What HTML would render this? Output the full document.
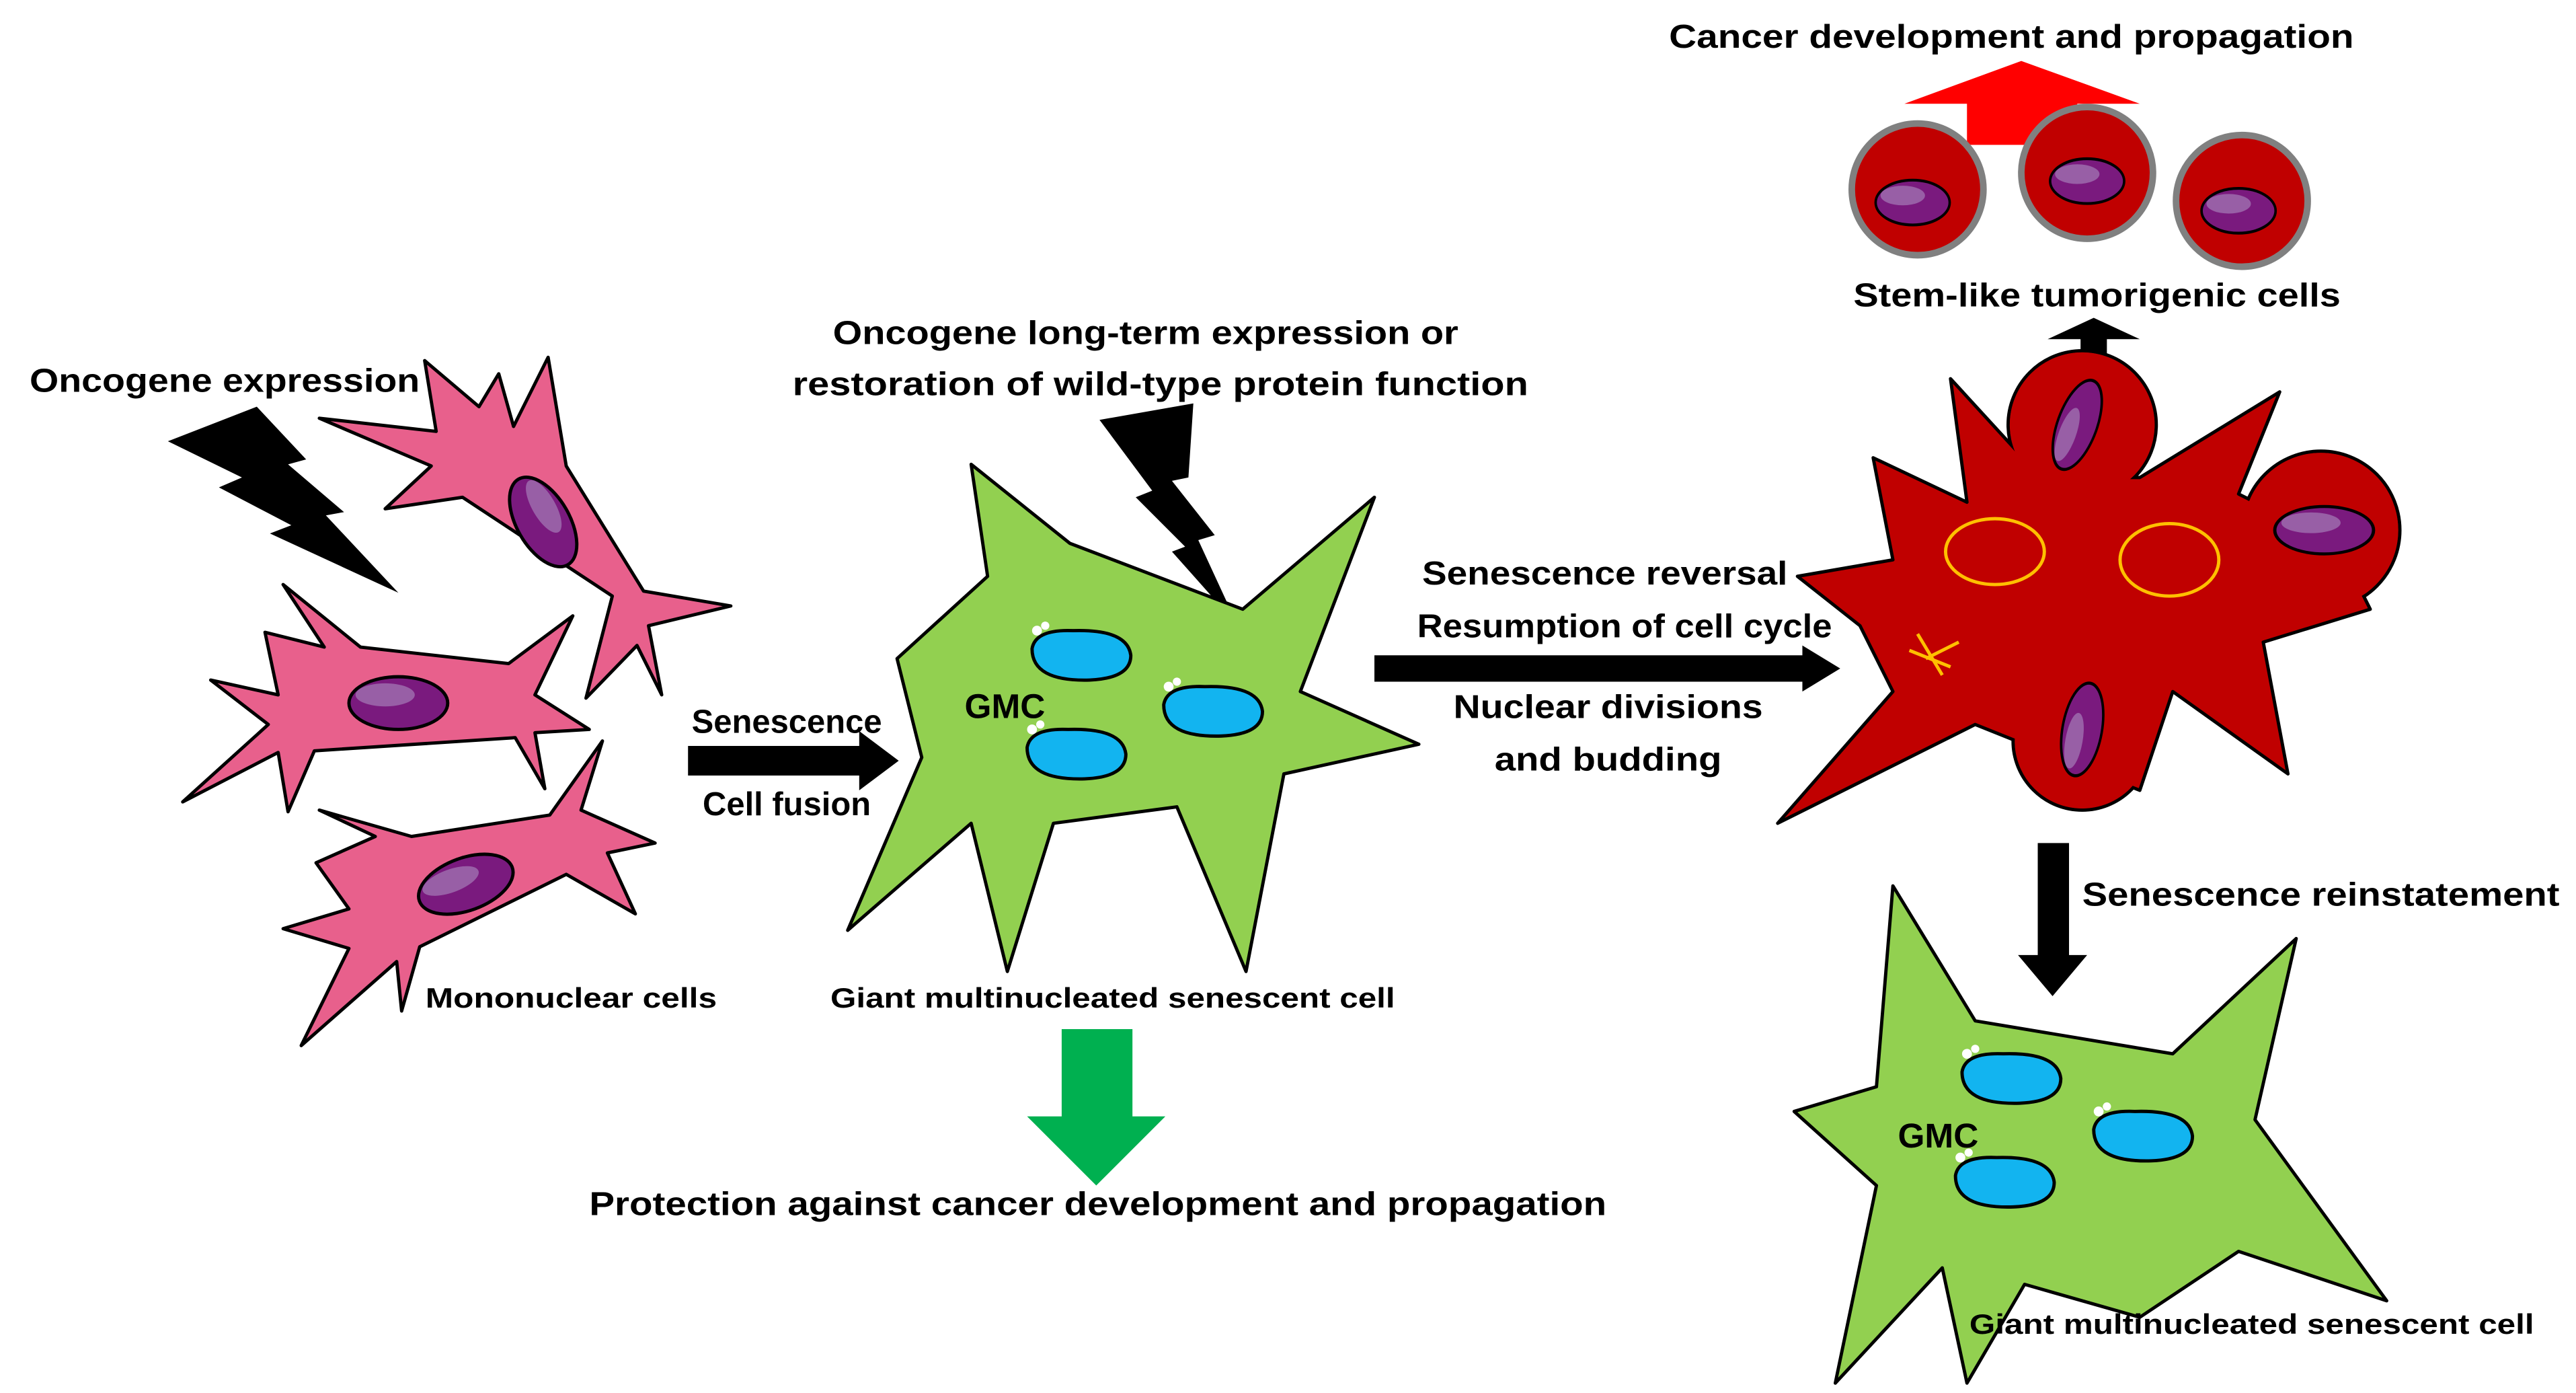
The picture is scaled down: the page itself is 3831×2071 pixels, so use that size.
<!DOCTYPE html>
<html><head><meta charset="utf-8"><style>
html,body{margin:0;padding:0;background:#fff;}
svg{display:block;}
text{font-family:"Liberation Sans",sans-serif;font-weight:bold;fill:#000;}
</style></head><body>
<svg width="3831" height="2071" viewBox="0 0 1565 846" preserveAspectRatio="none" xmlns="http://www.w3.org/2000/svg">
<defs>
<g id="nuc"><ellipse rx="30" ry="16" fill="#7a1a7e" stroke="#000" stroke-width="2"/><ellipse cx="-8" cy="-5" rx="18" ry="7" fill="#a070b0" opacity="0.8"/></g>
<g id="bnuc"><path d="M-30,-4 Q-28,-16 -5,-15 Q28,-16 30,0 Q30,14 5,15 Q-30,16 -30,-4Z" fill="#12b4f0" stroke="#000" stroke-width="2"/><circle cx="-27" cy="-15" r="3" fill="#fff"/><circle cx="-22" cy="-18" r="2.5" fill="#fff"/></g>
</defs>
<g fill="#e8608c" stroke="#000" stroke-width="2" stroke-linejoin="round">
<path d="M194,254 L265,262 L258,219 L291,247 L303,227 L312,259 L333,217 L344,283 L391,359 L444,368 L394,380 L402,422 L387,392 L356,424 L372,362 L281,302 L234,309 L262,283 Z"/>
<path d="M172,355 L197,393 L161,384 L169,422 L128,413 L163,440 L111,487 L169,457 L175,493 L191,456 L313,448 L331,479 L325,445 L358,443 L325,422 L348,374 L309,403 L219,393 Z"/>
<path d="M194,492 L228,508 L192,524 L212,552 L172,564 L212,576 L183,635 L241,584 L244,614 L255,575 L344,531 L386,555 L369,518 L398,512 L353,492 L366,450 L334,495 L250,508 Z"/>
</g>
<use href="#nuc" transform="translate(330,317) rotate(60)"/>
<use href="#nuc" transform="translate(242,427)"/>
<use href="#nuc" transform="translate(283,537) rotate(-20)"/>
<polygon points="102,268 156,247 186,279 175,282 209,311 198,313 242,360 164,324 177,319 133,296 147,290" fill="#000"/>
<polygon points="668,255 725,245 722,290 712,292 738,325 728,328 752,380 712,335 720,332 690,302 700,298" fill="#000"/>
<path d="M590,282 L650,330 L755,370 L835,302 L790,420 L862,452 L780,470 L757,590 L715,490 L640,500 L612,590 L590,500 L515,565 L560,460 L545,400 L600,350 Z" fill="#92d050" stroke="#000" stroke-width="2" stroke-linejoin="round"/>
<use href="#bnuc" transform="translate(657,398)"/>
<use href="#bnuc" transform="translate(737,432)"/>
<use href="#bnuc" transform="translate(654,458)"/>
<text x="586" y="436" font-size="21">GMC</text>
<polygon points="418,453 522,453 522,444 546,462 522,480 522,471 418,471" fill="#000"/>
<polygon points="835,398 1095,398 1095,392 1118,406 1095,420 1095,414 835,414" fill="#000"/>
<polygon points="645,625 688,625 688,678 708,678 666,720 624,678 645,678" fill="#00b050"/>
<polygon points="1238,512 1257,512 1257,580 1268,580 1247,605 1226,580 1238,580" fill="#000"/>
<polygon points="1264,220 1280,220 1280,206 1300,206 1272,193 1244,206 1264,206" fill="#000"/>
<polygon points="1195,88 1262,88 1262,63 1300,63 1228,37 1157,63 1195,63" fill="#ff0000"/>
<g fill="#c00000" stroke="#000" stroke-width="2" stroke-linejoin="round">
<circle cx="1265" cy="258" r="45"/><circle cx="1410" cy="322" r="48"/><circle cx="1265" cy="450" r="42"/>
<path d="M1092,350 L1150,340 L1138,278 L1195,305 L1185,230 L1240,290 L1300,290 L1385,238 L1360,300 L1420,330 L1440,370 L1375,390 L1390,470 L1320,420 L1300,480 L1200,440 L1080,500 L1150,420 L1130,380 Z"/>
</g>
<g fill="#c00000" stroke="#808080" stroke-width="4">
<circle cx="1165" cy="115" r="40"/><circle cx="1268" cy="105" r="40"/><circle cx="1362" cy="122" r="40"/>
</g>
<g fill="#c00000"><circle cx="1265" cy="258" r="44"/><circle cx="1410" cy="322" r="47"/><circle cx="1265" cy="450" r="41"/></g>
<g fill="none" stroke="#ffc000" stroke-width="2">
<ellipse cx="1212" cy="335" rx="30" ry="20"/><ellipse cx="1318" cy="340" rx="30" ry="22"/>
<path d="M1165,385 l15,25 M1170,400 l20,-10 M1160,395 l25,10"/>
</g>
<use href="#nuc" transform="translate(1262,258) rotate(-70) scale(0.95,0.75)"/>
<use href="#nuc" transform="translate(1412,322) scale(1,0.9)"/>
<use href="#nuc" transform="translate(1265,443) rotate(-80) scale(0.95,0.75)"/>
<use href="#nuc" transform="translate(1162,123) scale(0.75,0.85)"/>
<use href="#nuc" transform="translate(1268,110) scale(0.75,0.85)"/>
<use href="#nuc" transform="translate(1360,128) scale(0.75,0.85)"/>
<path d="M1090,675 L1140,660 L1150,538 L1200,620 L1320,640 L1395,570 L1370,680 L1450,790 L1360,760 L1300,800 L1230,780 L1195,840 L1180,770 L1115,840 L1140,720 Z" fill="#92d050" stroke="#000" stroke-width="2" stroke-linejoin="round"/>
<use href="#bnuc" transform="translate(1222,655)"/>
<use href="#bnuc" transform="translate(1302,690)"/>
<use href="#bnuc" transform="translate(1218,718)"/>
<text x="1153" y="697" font-size="21">GMC</text>
<text x="18" y="238" font-size="20" textLength="237" lengthAdjust="spacingAndGlyphs">Oncogene expression</text>
<text x="478" y="445" font-size="20" text-anchor="middle">Senescence</text>
<text x="478" y="495" font-size="20" text-anchor="middle">Cell fusion</text>
<text x="696" y="209" font-size="20" text-anchor="middle" textLength="380" lengthAdjust="spacingAndGlyphs">Oncogene long-term expression or</text>
<text x="705" y="240" font-size="20" text-anchor="middle" textLength="447" lengthAdjust="spacingAndGlyphs">restoration of wild-type protein function</text>
<text x="347" y="612" font-size="17" text-anchor="middle" textLength="177" lengthAdjust="spacingAndGlyphs">Mononuclear cells</text>
<text x="676" y="612" font-size="17" text-anchor="middle" textLength="343" lengthAdjust="spacingAndGlyphs">Giant multinucleated senescent cell</text>
<text x="667" y="738" font-size="20" text-anchor="middle" textLength="618" lengthAdjust="spacingAndGlyphs">Protection against cancer development and propagation</text>
<text x="975" y="355" font-size="20" text-anchor="middle" textLength="222" lengthAdjust="spacingAndGlyphs">Senescence reversal</text>
<text x="987" y="387" font-size="20" text-anchor="middle" textLength="252" lengthAdjust="spacingAndGlyphs">Resumption of cell cycle</text>
<text x="977" y="436" font-size="20" text-anchor="middle" textLength="188" lengthAdjust="spacingAndGlyphs">Nuclear divisions</text>
<text x="977" y="468" font-size="20" text-anchor="middle" textLength="138" lengthAdjust="spacingAndGlyphs">and budding</text>
<text x="1222" y="29" font-size="20" text-anchor="middle" textLength="416" lengthAdjust="spacingAndGlyphs">Cancer development and propagation</text>
<text x="1274" y="186" font-size="20" text-anchor="middle" textLength="296" lengthAdjust="spacingAndGlyphs">Stem-like tumorigenic cells</text>
<text x="1265" y="550" font-size="20" textLength="290" lengthAdjust="spacingAndGlyphs">Senescence reinstatement</text>
<text x="1368" y="810" font-size="17" text-anchor="middle" textLength="343" lengthAdjust="spacingAndGlyphs">Giant multinucleated senescent cell</text>
</svg>
</body></html>
